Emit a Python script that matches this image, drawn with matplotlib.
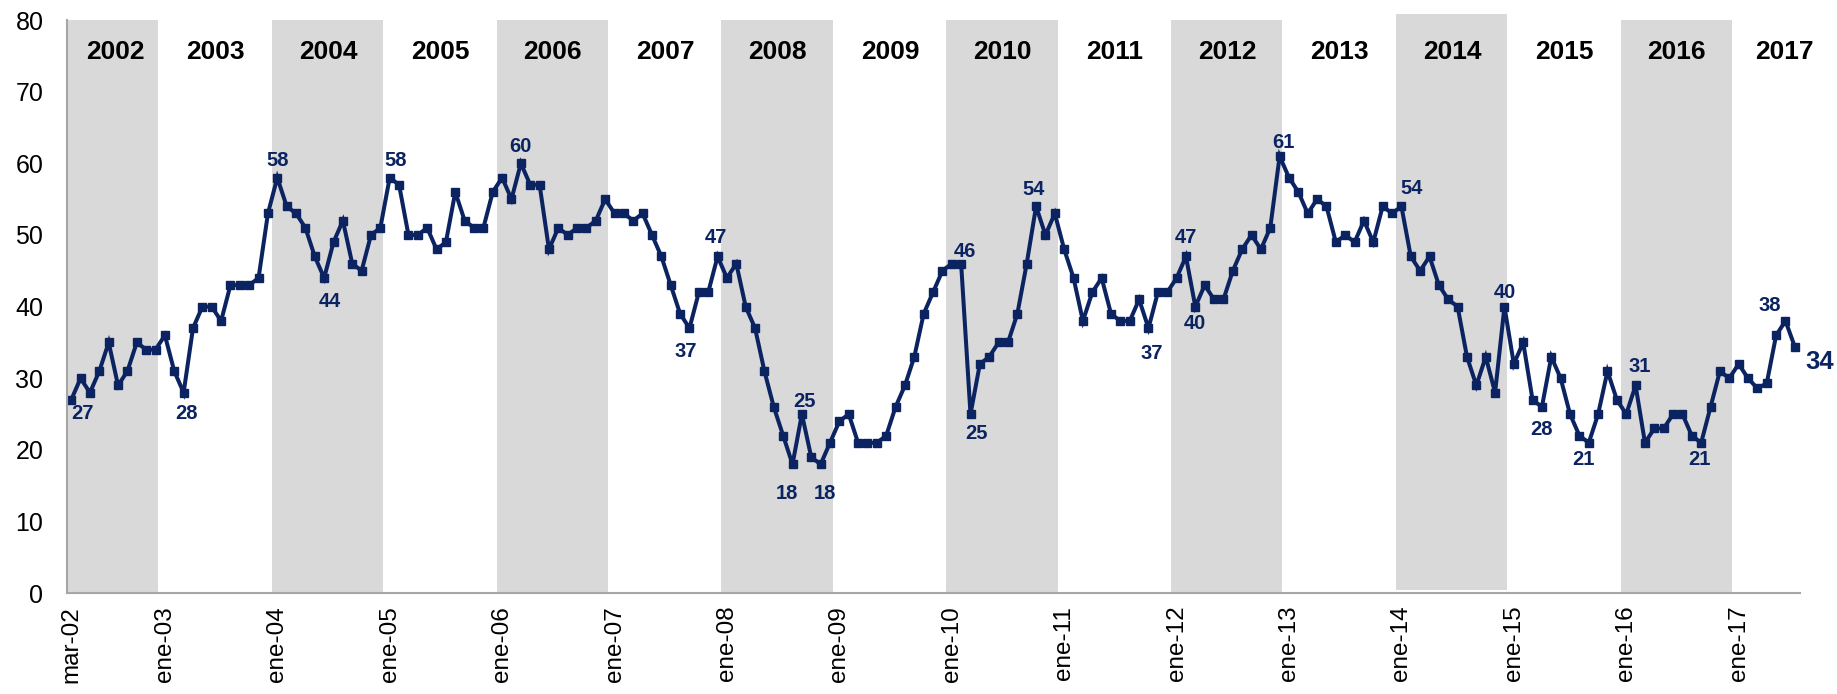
import matplotlib
matplotlib.use("Agg")
import matplotlib.pyplot as plt
from matplotlib.patches import Rectangle

plt.rcParams['font.family'] = ['Liberation Sans', 'DejaVu Sans']

# ---------------- data ----------------
month_abbr = ['ene', 'feb', 'mar', 'abr', 'may', 'jun', 'jul', 'ago', 'sep', 'oct', 'nov', 'dic']

v2002 = [27, 30, 28, 31, 35, 29, 31, 35, 34, 34]                 # mar-dic
v2003 = [36, 31, 28, 37, 40, 40, 38, 43, 43, 43, 44, 53]
v2004 = [58, 54, 53, 51, 47, 44, 49, 52, 46, 45, 50, 51]
v2005 = [58, 57, 50, 50, 51, 48, 49, 56, 52, 51, 51, 56]
v2006 = [58, 55, 60, 57, 57, 48, 51, 50, 51, 51, 52, 55]
v2007 = [53, 53, 52, 53, 50, 47, 43, 39, 37, 42, 42, 47]
v2008 = [44, 46, 40, 37, 31, 26, 22, 18, 25, 19, 18, 21]
v2009 = [24, 25, 21, 21, 21, 22, 26, 29, 33, 39, 42, 45]
v2010 = [46, 46, 25, 32, 33, 35, 35, 39, 46, 54, 50, 53]
v2011 = [48, 44, 38, 42, 44, 39, 38, 38, 41, 37, 42, 42]
v2012 = [44, 47, 40, 43, 41, 41, 45, 48, 50, 48, 51, 61]
v2013 = [58, 56, 53, 55, 54, 49, 50, 49, 52, 49, 54, 53]
v2014 = [54, 47, 45, 47, 43, 41, 40, 33, 29, 33, 28, 40]
v2015 = [32, 35, 27, 26, 33, 30, 25, 22, 21, 25, 31, 27]
v2016 = [25, 29, 21, 23, 23, 25, 25, 22, 21, 26, 31, 30]
v2017 = [32, 30, 28.6, 29.3, 36, 38, 34.4]                        # ene-jul

yearly_values = [v2002, v2003, v2004, v2005, v2006, v2007, v2008, v2009,
                 v2010, v2011, v2012, v2013, v2014, v2015, v2016, v2017]
years = list(range(2002, 2018))
year_labels = [str(y) for y in years]
shaded_years = [2002, 2004, 2006, 2008, 2010, 2012, 2014, 2016]

tick_labels = ['mar-02', 'ene-03', 'ene-04', 'ene-05', 'ene-06', 'ene-07', 'ene-08',
               'ene-09', 'ene-10', 'ene-11', 'ene-12', 'ene-13', 'ene-14', 'ene-15',
               'ene-16', 'ene-17']

# data labels shown on the chart: (category, text)
label_cats = ['mar-02', 'mar-03', 'ene-04', 'jun-04', 'ene-05', 'mar-06', 'sep-07',
              'dic-07', 'ago-08', 'sep-08', 'nov-08', 'feb-10', 'mar-10', 'oct-10',
              'oct-11', 'feb-12', 'mar-12', 'dic-12', 'ene-14', 'dic-14', 'abr-15',
              'sep-15', 'feb-16', 'sep-16', 'jun-17', 'jul-17']
label_texts = ['27', '28', '58', '44', '58', '60', '37', '47', '18', '25', '18',
               '46', '25', '54', '37', '47', '40', '61', '54', '40', '28', '21',
               '31', '21', '38', '34']

# build categories / values
categories, values = [], []
for y, vals in zip(years, yearly_values):
    start = 2 if y == 2002 else 0
    for i, v in enumerate(vals):
        categories.append(f"{month_abbr[start + i]}-{str(y)[2:]}")
        values.append(v)
x = list(range(len(values)))

# ---------------- layout / style ----------------
W, H = 1837, 694
NAVY = '#0B2461'
SHADE = '#D9D9D9'
AXIS_GREY = '#A6A6A6'

# label offsets in points (dx, dy)
label_offsets = [(8, -10), (2, -15), (0, 12), (4, -17), (4, 12), (0, 12), (-3, -17),
                 (-1.5, 14), (-4, -21), (2, 9), (3, -21), (3, 9), (4, -14), (-1.5, 12),
                 (2.5, -18), (0, 14), (0, -12), (3, 10), (7, 13), (0, 10), (0, -16),
                 (-4, -12), (3, 14), (-1, -12), (-11, 11), (18, -11)]

fig = plt.figure(figsize=(W / 100, H / 100), dpi=100)
left_px, right_px, top_px, bottom_px = 67, 1800, 20, 593.3
ax = fig.add_axes([left_px / W, (H - bottom_px) / H,
                   (right_px - left_px) / W, (bottom_px - top_px) / H])

xmin, xmax = -0.45, len(values) - 0.45
ax.set_xlim(xmin, xmax)
ax.set_ylim(0, 80)

# year shading
for y in shaded_years:
    if y == 2002:
        s, e = xmin, categories.index('ene-03') - 0.7
    else:
        k = categories.index(f"ene-{str(y)[2:]}")
        s, e = k - 0.6, k + 11.3
    if y == 2014:
        r = Rectangle((s, 0.5), e - s, 80.9 - 0.5, facecolor=SHADE, edgecolor='none',
                      zorder=0, clip_on=False)
    else:
        r = Rectangle((s, 0), e - s, 80, facecolor=SHADE, edgecolor='none', zorder=0)
    ax.add_patch(r)

# year labels
for y, lab in zip(years, year_labels):
    if y == 2002:
        cx = (xmin + categories.index('ene-03') - 0.7) / 2 + 0.3
    elif y == 2017:
        cx = categories.index('ene-17') + 4.9
    else:
        k = categories.index(f"ene-{str(y)[2:]}")
        cx = k + 5.4
    ax.text(cx, 75.5, lab, ha='center', va='center', fontsize=19,
            fontweight='bold', color='black', zorder=3)

# line
ax.plot(x, values, color=NAVY, lw=2.9, marker='s', ms=5.5, zorder=4,
        solid_joinstyle='miter')

# data labels
for cat, txt, (dx, dy) in zip(label_cats, label_texts, label_offsets):
    k = categories.index(cat)
    fs = 18.5 if cat == 'jul-17' else 14.5
    ax.annotate(txt, (k, values[k]), xytext=(dx, dy), textcoords='offset points',
                ha='center', va='center', fontsize=fs, fontweight='bold',
                color=NAVY, zorder=5, annotation_clip=False)

# axes styling
ax.set_xticks([categories.index(t) for t in tick_labels])
ax.set_xticklabels(tick_labels, rotation=90, fontsize=17.5, color='black')
ax.set_yticks(range(0, 81, 10))
ax.set_yticklabels([str(v) for v in range(0, 81, 10)], fontsize=18, color='black')
ax.tick_params(axis='both', length=0)
ax.tick_params(axis='y', pad=17)
ax.tick_params(axis='x', pad=9)
for side in ['top', 'right']:
    ax.spines[side].set_visible(False)
for side in ['left', 'bottom']:
    ax.spines[side].set_color(AXIS_GREY)
    ax.spines[side].set_linewidth(1.5)
ax.set_facecolor('white')
ax.spines['left'].set_zorder(6)

fig.savefig('out.png', dpi=100)
